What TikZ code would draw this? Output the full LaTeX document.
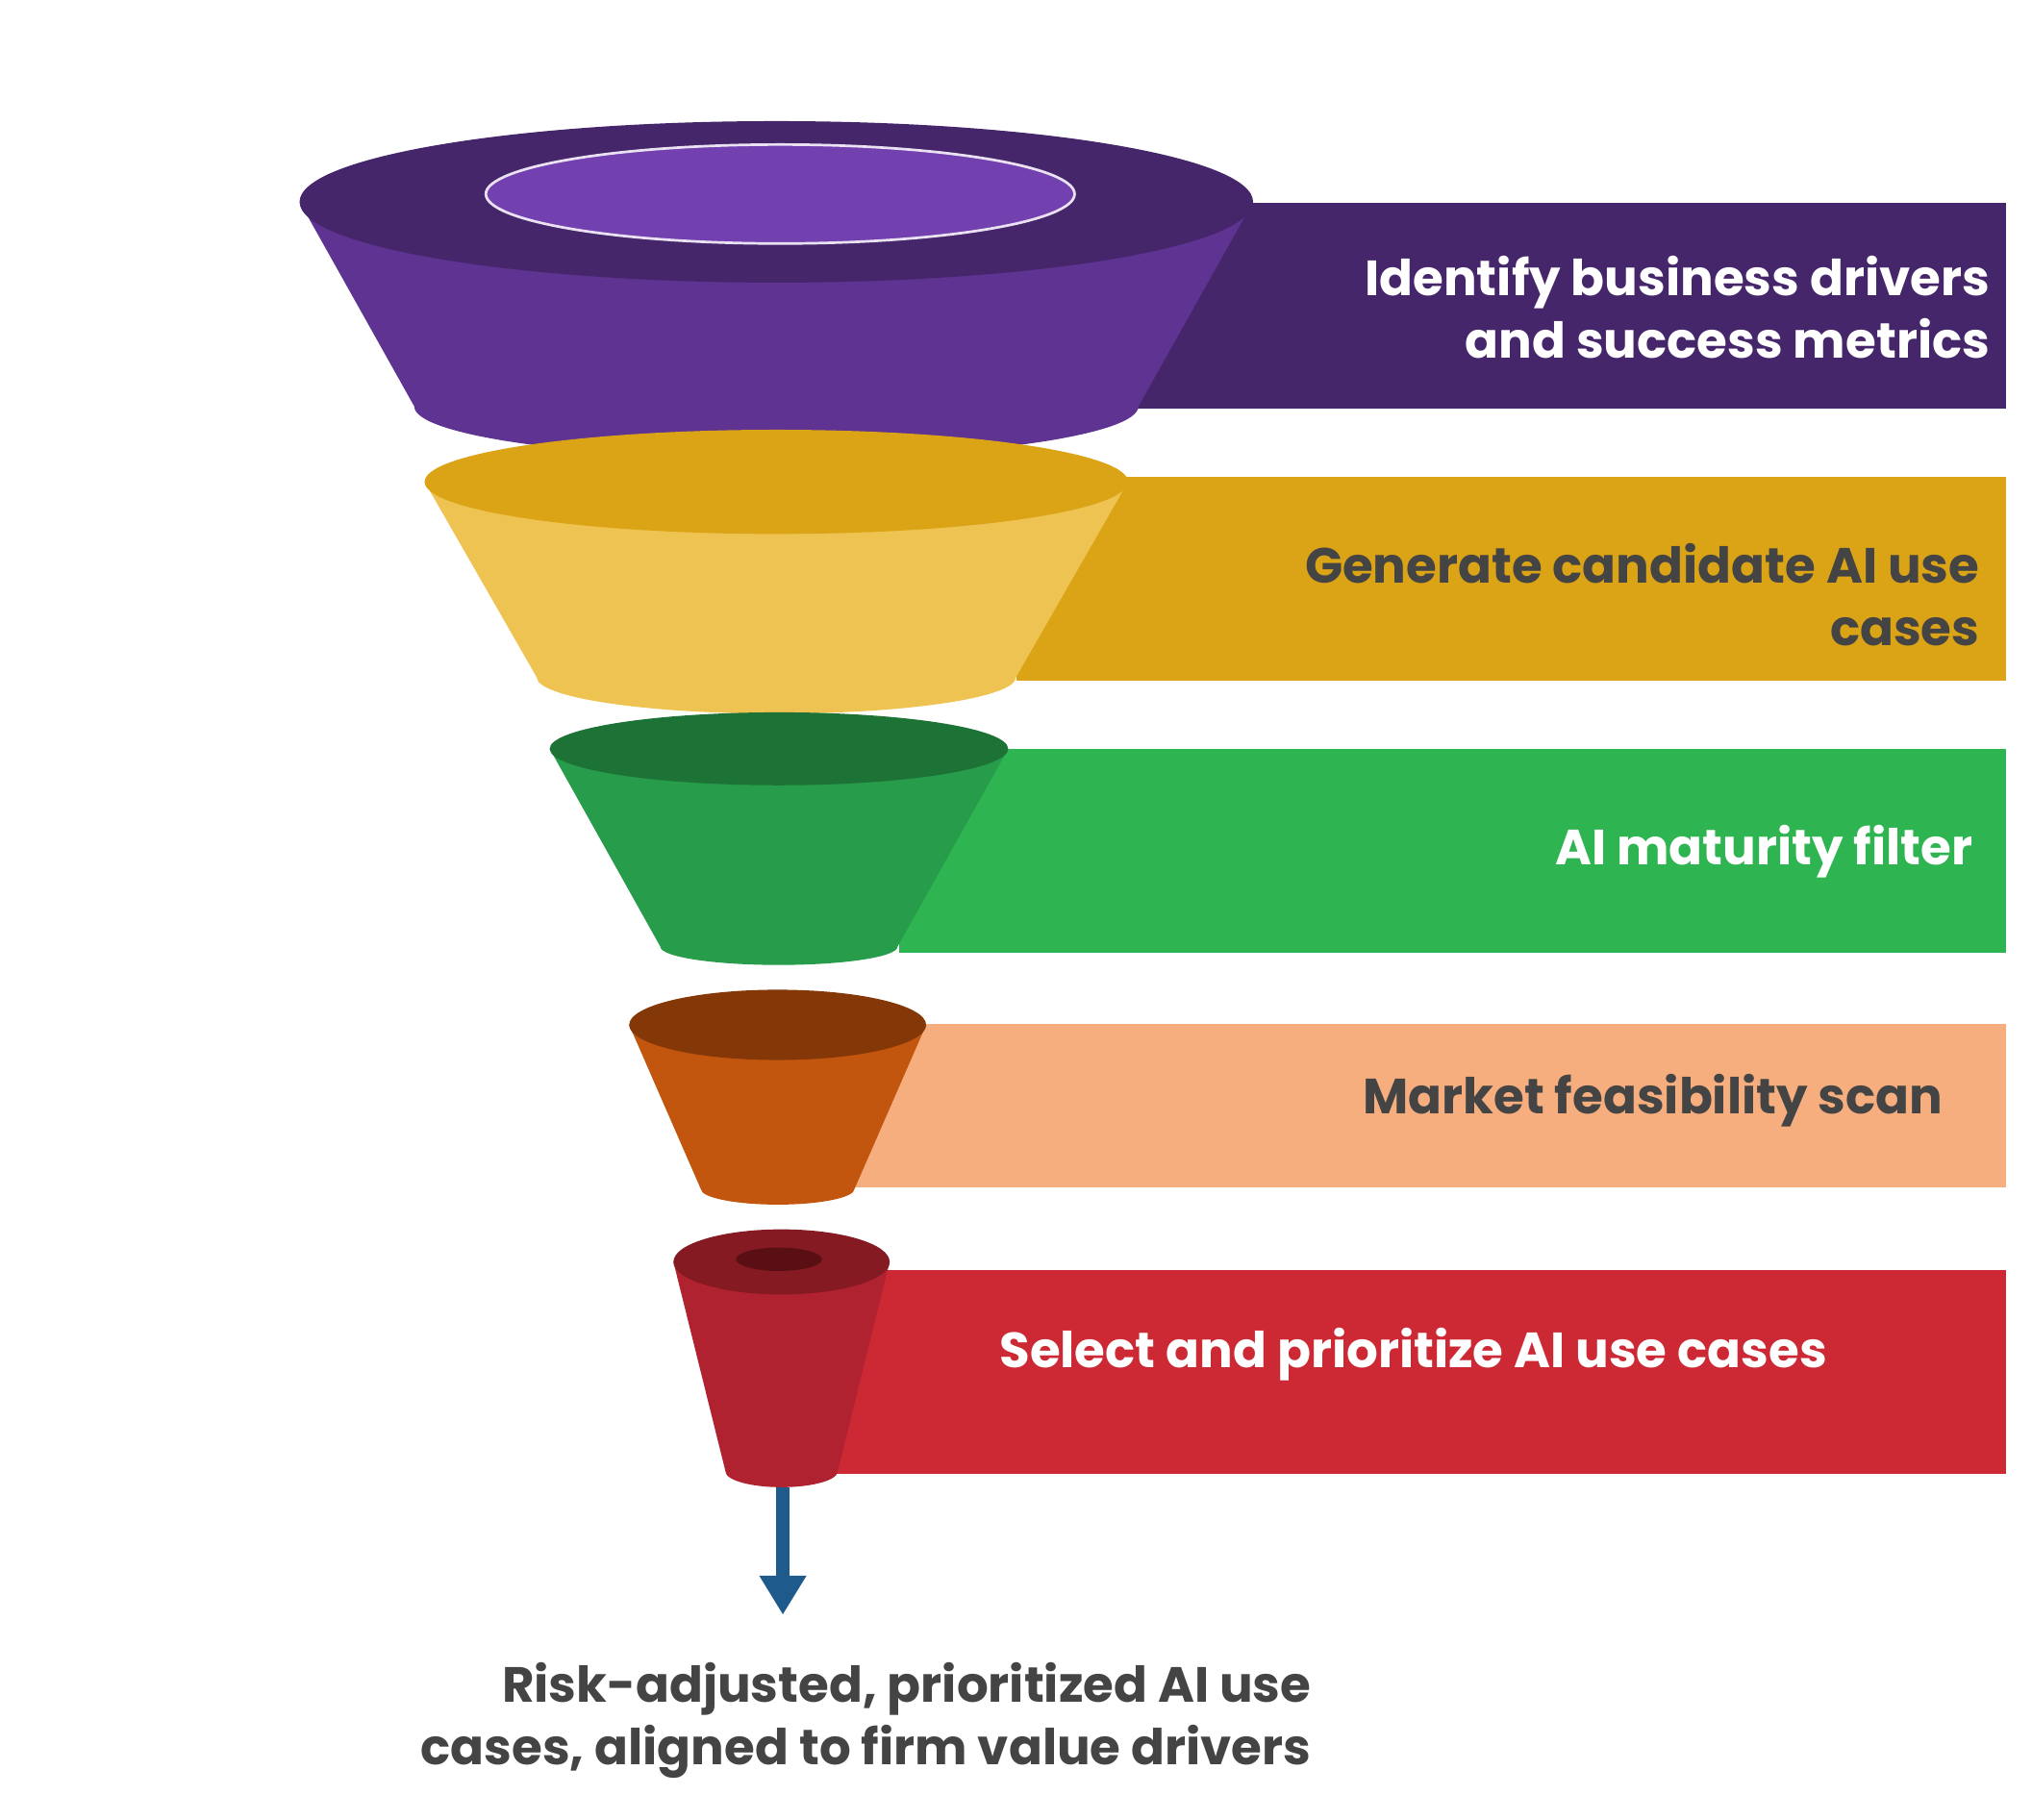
\documentclass[tikz,border=0pt]{standalone}
\usepackage{fontspec}
\setmainfont{Poppins}
\usetikzlibrary{arrows.meta}
\definecolor{pDark}{HTML}{46266A}\definecolor{pBody}{HTML}{5E3391}\definecolor{pIn}{HTML}{7340B0}
\definecolor{gBar}{HTML}{DBA316}\definecolor{gBody}{HTML}{EEC352}
\definecolor{grBar}{HTML}{2EB451}\definecolor{grTop}{HTML}{1D7336}\definecolor{grBody}{HTML}{279C4B}
\definecolor{oBar}{HTML}{F6AE7E}\definecolor{oTop}{HTML}{843807}\definecolor{oBody}{HTML}{C2560F}
\definecolor{rBar}{HTML}{CC2935}\definecolor{rTop}{HTML}{861A23}\definecolor{rIn}{HTML}{5A0F14}\definecolor{rBody}{HTML}{B0222F}
\definecolor{txt}{HTML}{444444}\definecolor{arr}{HTML}{1F5A8C}
\tikzset{lab/.style={font=\fontsize{19}{24}\selectfont\bfseries, align=right, anchor=east, inner sep=0}}
\newcommand{\funnelpart}[9]{%
 \fill[#8] (#7-#2,#1) -- (#7-#5,#4) arc[start angle=180,end angle=0,x radius=#5,y radius=#6] -- (#7+#2,#1) -- cycle;
 \fill[#9] (#7,#1) ellipse[x radius=#2,y radius=#3];}
\begin{document}
\begin{tikzpicture}[x=0.5pt,y=-0.5pt]
\useasboundingbox (0,0) rectangle (1560,1397);
% bars
\fill[pDark] (870,156) rectangle (1540,314);
\fill[gBar] (780,366) rectangle (1540,523);
\fill[grBar] (690,575) rectangle (1540,732);
\fill[oBar] (655,786) rectangle (1540,912);
\fill[rBar] (640,975) rectangle (1540,1132);
% funnels
\funnelpart{155}{366}{62}{312}{278}{40}{596}{pBody}{pDark}
\fill[pIn,draw=white!85!pIn,line width=1pt] (599,149) ellipse[x radius=226,y radius=38];
\funnelpart{370}{270}{40}{520}{184}{28}{596}{gBody}{gBar}
\funnelpart{575}{176}{28}{727}{91}{14}{598}{grBody}{grTop}
\funnelpart{787}{114}{27}{913}{59}{12}{597}{oBody}{oTop}
\funnelpart{969}{83}{25}{1130}{43}{12}{600}{rBody}{rTop}
\fill[rIn] (598,967) ellipse[x radius=33,y radius=9];
% labels
\node[lab,text=white] (l1) at (1528,236) {Identify business drivers\\and success metrics};
\node[lab,text=txt] (l2) at (1520,457) {Generate candidate AI use\\cases};
\node[lab,text=white] (l3) at (1515,654) {AI maturity filter};
\node[lab,text=txt] (l4) at (1492,845) {Market feasibility scan};
\node[lab,text=white,anchor=center] (l5) at (1085,1040) {Select and prioritize AI use cases};
\coordinate (a0) at (601,1142);
\node[lab,text=txt,anchor=north east] (out) at (1007,1276) {Risk-adjusted, prioritized AI use\\cases, aligned to firm value drivers};
\coordinate (a1) at (601,1240);
\draw[arr,line width=5pt,-{Triangle[length=15pt,width=17pt]}] (a0) -- (a1);
\end{tikzpicture}
\end{document}
